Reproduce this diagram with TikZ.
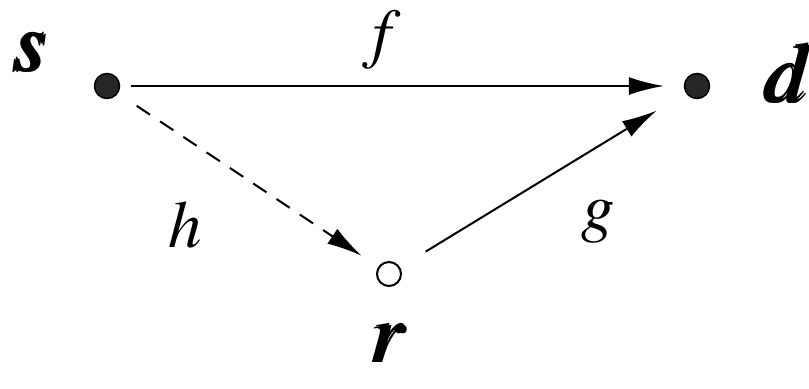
\documentclass[tikz,border=0pt]{standalone}
\usepackage{amsmath}
\usepackage{mathptmx}
\usetikzlibrary{arrows.meta}

\begin{document}
\begin{tikzpicture}[x=0.02cm,y=-0.02cm,>={Latex[length=0.7cm,width=0.36cm]},line width=0.04cm]
\tikzstyle{dot}=[circle,draw,fill=black!85,inner sep=0pt,minimum size=0.5cm,line width=0.03cm]
\tikzstyle{hole}=[circle,draw,fill=white,inner sep=0pt,minimum size=0.48cm,line width=0.04cm]
\tikzstyle{lbl}=[font=\fontsize{48}{50}\selectfont,inner sep=0pt]
\tikzstyle{ch}=[font=\fontsize{38}{40}\selectfont,inner sep=0pt]
\useasboundingbox (0,0) rectangle (809,389);
\node[dot] (s) at (107,86) {};
\node[dot] (d) at (697,86) {};
\node[hole] (r) at (389,274) {};
\node[lbl] (sl) at (32,52) {$\pmb{s}$};
\node[lbl] (dl) at (790,73) {$\pmb{d}$};
\node[lbl] (rl) at (390,343) {$\pmb{r}$};
\draw[->,shorten <=0.22cm,shorten >=0.4cm] (s) -- (d);
\draw[->,dash pattern=on 0.32cm off 0.24cm,shorten <=0.45cm,shorten >=0.4cm] (s) -- (r);
\draw[->,shorten <=0.6cm,shorten >=0.68cm] (r) -- (d);
\node[ch] (f) at (382,40) {$f$};
\node[ch] (h) at (185,225) {$h$};
\node[ch] (g) at (598,222) {$g$};
\end{tikzpicture}
\end{document}
